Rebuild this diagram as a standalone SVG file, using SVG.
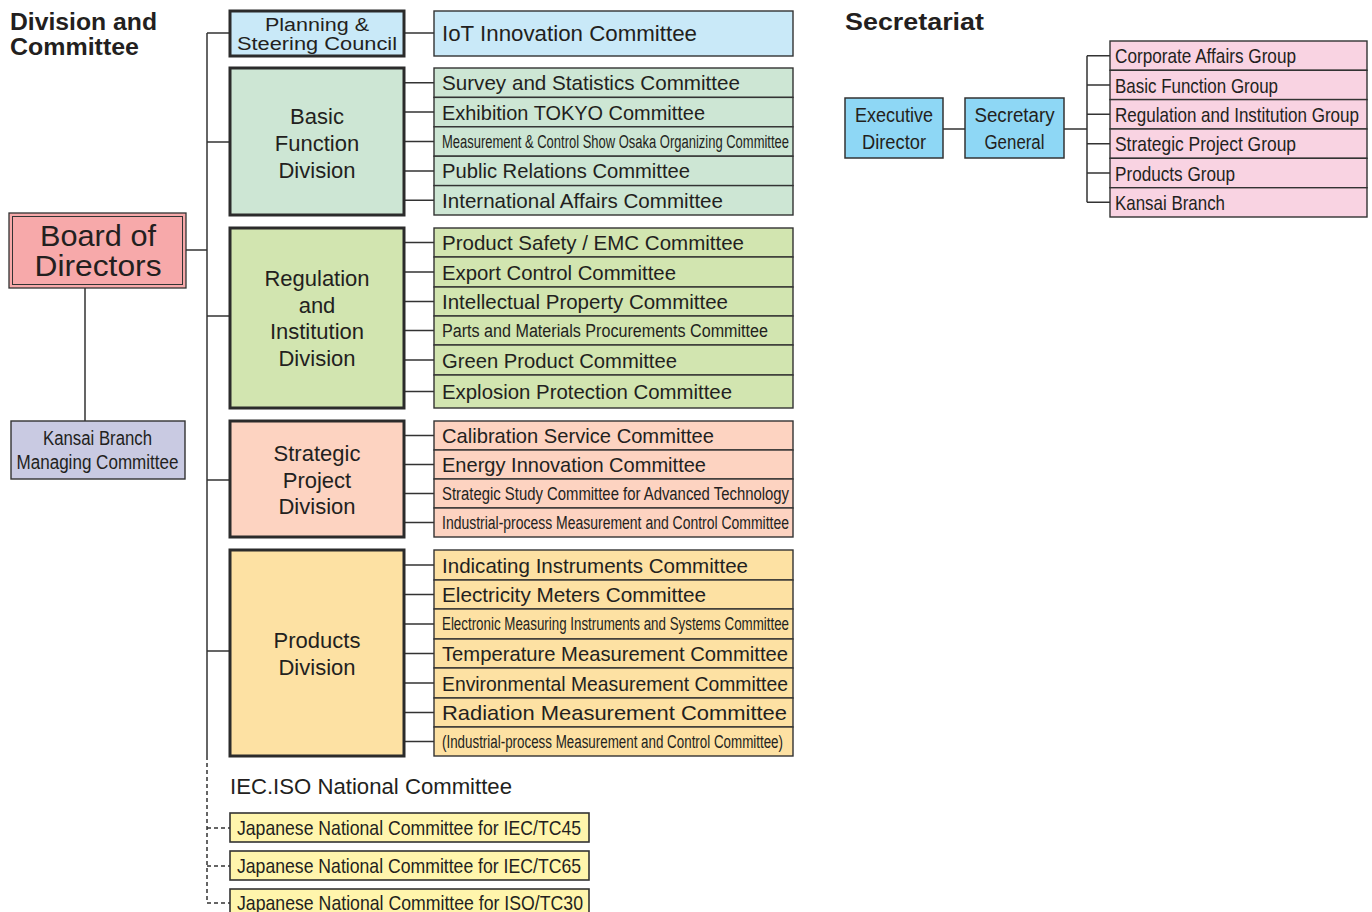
<svg xmlns="http://www.w3.org/2000/svg" width="1372" height="912" viewBox="0 0 1372 912">
<style>
text{font-family:"Liberation Sans",Arial,sans-serif;fill:#231f20}
.title{font-weight:bold;font-size:23px}
.div{stroke:#2b2b2b;stroke-width:3}
.cm{stroke:#333;stroke-width:1.4}
.c{font-size:21px}
.s{font-size:18px}
.dl{font-size:22px;text-anchor:middle}
.ln{stroke:#333;stroke-width:1.5;fill:none}
.dash{stroke:#333;stroke-width:1.5;fill:none;stroke-dasharray:4 3}
</style>
<text class="title" x="10" y="30" textLength="147" lengthAdjust="spacingAndGlyphs">Division and</text>
<text class="title" x="10" y="55" textLength="129" lengthAdjust="spacingAndGlyphs">Committee</text>
<text class="title" x="845" y="30" textLength="139" lengthAdjust="spacingAndGlyphs">Secretariat</text>

<g id="connectors">
<path class="ln" d="M207 33V756"/>
<path class="dash" d="M207 756V903"/>
<path class="ln" d="M207 33H230M404 33H434M207 142H230M207 316H230M207 480H230M207 651H230M186 250H207M85 288V421"/>
<path class="ln" d="M404 82.7H434M404 112.1H434M404 141.5H434M404 170.9H434M404 200.3H434"/>
<path class="ln" d="M404 242.5H434M404 272H434M404 301.5H434M404 330.5H434M404 360H434M404 391.5H434"/>
<path class="ln" d="M404 435.5H434M404 464.5H434M404 493.5H434M404 522.5H434"/>
<path class="ln" d="M404 565H434M404 594.5H434M404 624H434M404 653.5H434M404 683H434M404 712.5H434M404 741.5H434"/>
<path class="dash" d="M207 828H230M207 866H230M207 903H230"/>
<path class="ln" d="M943 129H965M1064 129H1087M1087 55.7V202.3M1087 55.7H1110M1087 85H1110M1087 114.3H1110M1087 143.7H1110M1087 173H1110M1087 202.3H1110"/>
</g>

<g id="board">
<rect x="9" y="213" width="177" height="75" fill="#f7a9aa" stroke="#333" stroke-width="1.3"/>
<rect x="12.5" y="216.5" width="170" height="68" fill="none" stroke="#333" stroke-width="1"/>
<text x="98" y="246" font-size="29" text-anchor="middle" textLength="116" lengthAdjust="spacingAndGlyphs">Board of</text>
<text x="98" y="276" font-size="29" text-anchor="middle" textLength="127" lengthAdjust="spacingAndGlyphs">Directors</text>
</g>
<g id="kansai-managing">
<rect x="11" y="421" width="174" height="58" fill="#c9cae2" stroke="#333" stroke-width="1.4"/>
<text x="97.5" y="445" font-size="20" text-anchor="middle" textLength="109" lengthAdjust="spacingAndGlyphs">Kansai Branch</text>
<text x="97.5" y="469" font-size="20" text-anchor="middle" textLength="162" lengthAdjust="spacingAndGlyphs">Managing Committee</text>
</g>

<g id="planning">
<rect class="div" x="230" y="11" width="174" height="45" fill="#c9e9f8"/>
<text x="317" y="31" font-size="18" text-anchor="middle" textLength="104" lengthAdjust="spacingAndGlyphs">Planning &amp;</text>
<text x="317" y="50" font-size="18" text-anchor="middle" textLength="160" lengthAdjust="spacingAndGlyphs">Steering Council</text>
</g>
<g id="iot">
<rect class="cm" x="434" y="11" width="359" height="45" fill="#c9e9f8"/>
<text x="442" y="41" font-size="22" textLength="255" lengthAdjust="spacingAndGlyphs">IoT Innovation Committee</text>
</g>

<g id="basic-division">
<rect class="div" x="230" y="68" width="174" height="147" fill="#cde6d4"/>
<text class="dl" x="317" y="124">Basic</text>
<text class="dl" x="317" y="151">Function</text>
<text class="dl" x="317" y="178">Division</text>
</g>
<g id="basic-committees" fill="#cde6d4">
<rect class="cm" x="434" y="68" width="359" height="29.4"/>
<rect class="cm" x="434" y="97.4" width="359" height="29.4"/>
<rect class="cm" x="434" y="126.8" width="359" height="29.4"/>
<rect class="cm" x="434" y="156.2" width="359" height="29.4"/>
<rect class="cm" x="434" y="185.6" width="359" height="29.4"/>
<text class="c" x="442" y="90" textLength="298" lengthAdjust="spacingAndGlyphs">Survey and Statistics Committee</text>
<text class="c" x="442" y="119.5" textLength="263" lengthAdjust="spacingAndGlyphs">Exhibition TOKYO Committee</text>
<text class="s" x="442" y="148" textLength="347" lengthAdjust="spacingAndGlyphs">Measurement &amp; Control Show Osaka Organizing Committee</text>
<text class="c" x="442" y="178" textLength="248" lengthAdjust="spacingAndGlyphs">Public Relations Committee</text>
<text class="c" x="442" y="208" textLength="281" lengthAdjust="spacingAndGlyphs">International Affairs Committee</text>
</g>

<g id="regulation-division">
<rect class="div" x="230" y="228" width="174" height="180" fill="#d2e5b0"/>
<text class="dl" x="317" y="286">Regulation</text>
<text class="dl" x="317" y="313">and</text>
<text class="dl" x="317" y="339">Institution</text>
<text class="dl" x="317" y="366">Division</text>
</g>
<g id="regulation-committees" fill="#d2e5b0">
<rect class="cm" x="434" y="228" width="359" height="29"/>
<rect class="cm" x="434" y="257" width="359" height="30"/>
<rect class="cm" x="434" y="287" width="359" height="29"/>
<rect class="cm" x="434" y="316" width="359" height="29"/>
<rect class="cm" x="434" y="345" width="359" height="30"/>
<rect class="cm" x="434" y="375" width="359" height="33"/>
<text class="c" x="442" y="250" textLength="302" lengthAdjust="spacingAndGlyphs">Product Safety / EMC Committee</text>
<text class="c" x="442" y="279.5" textLength="234" lengthAdjust="spacingAndGlyphs">Export Control Committee</text>
<text class="c" x="442" y="309" textLength="286" lengthAdjust="spacingAndGlyphs">Intellectual Property Committee</text>
<text class="s" x="442" y="337" textLength="326" lengthAdjust="spacingAndGlyphs">Parts and Materials Procurements Committee</text>
<text class="c" x="442" y="367.5" textLength="235" lengthAdjust="spacingAndGlyphs">Green Product Committee</text>
<text class="c" x="442" y="399" textLength="290" lengthAdjust="spacingAndGlyphs">Explosion Protection Committee</text>
</g>

<g id="strategic-division">
<rect class="div" x="230" y="421" width="174" height="116" fill="#fdd3c1"/>
<text class="dl" x="317" y="461">Strategic</text>
<text class="dl" x="317" y="488">Project</text>
<text class="dl" x="317" y="514">Division</text>
</g>
<g id="strategic-committees" fill="#fdd3c1">
<rect class="cm" x="434" y="421" width="359" height="29"/>
<rect class="cm" x="434" y="450" width="359" height="29"/>
<rect class="cm" x="434" y="479" width="359" height="29"/>
<rect class="cm" x="434" y="508" width="359" height="29"/>
<text class="c" x="442" y="443" textLength="272" lengthAdjust="spacingAndGlyphs">Calibration Service Committee</text>
<text class="c" x="442" y="472" textLength="264" lengthAdjust="spacingAndGlyphs">Energy Innovation Committee</text>
<text class="s" x="442" y="500" textLength="347" lengthAdjust="spacingAndGlyphs">Strategic Study Committee for Advanced Technology</text>
<text class="s" x="442" y="529" textLength="347" lengthAdjust="spacingAndGlyphs">Industrial-process Measurement and Control Committee</text>
</g>

<g id="products-division">
<rect class="div" x="230" y="550" width="174" height="206" fill="#fde1a3"/>
<text class="dl" x="317" y="648">Products</text>
<text class="dl" x="317" y="675">Division</text>
</g>
<g id="products-committees" fill="#fde1a3">
<rect class="cm" x="434" y="550" width="359" height="30"/>
<rect class="cm" x="434" y="580" width="359" height="29"/>
<rect class="cm" x="434" y="609" width="359" height="30"/>
<rect class="cm" x="434" y="639" width="359" height="29"/>
<rect class="cm" x="434" y="668" width="359" height="30"/>
<rect class="cm" x="434" y="698" width="359" height="29"/>
<rect class="cm" x="434" y="727" width="359" height="29"/>
<text class="c" x="442" y="572.5" textLength="306" lengthAdjust="spacingAndGlyphs">Indicating Instruments Committee</text>
<text class="c" x="442" y="602" textLength="264" lengthAdjust="spacingAndGlyphs">Electricity Meters Committee</text>
<text class="s" x="442" y="630" textLength="347" lengthAdjust="spacingAndGlyphs">Electronic Measuring Instruments and Systems Committee</text>
<text class="c" x="442" y="661" textLength="346" lengthAdjust="spacingAndGlyphs">Temperature Measurement Committee</text>
<text class="c" x="442" y="690.5" textLength="346" lengthAdjust="spacingAndGlyphs">Environmental Measurement Committee</text>
<text class="c" x="442" y="720" textLength="345" lengthAdjust="spacingAndGlyphs">Radiation Measurement Committee</text>
<text class="s" x="442" y="748" textLength="341" lengthAdjust="spacingAndGlyphs">(Industrial-process Measurement and Control Committee)</text>
</g>

<g id="iec-iso">
<text x="230" y="794" font-size="22" textLength="282" lengthAdjust="spacingAndGlyphs">IEC.ISO National Committee</text>
</g>
<g id="jnc-tc45">
<rect x="230" y="813" width="359" height="29" fill="#fff5ac" stroke="#333" stroke-width="1.6"/>
<text class="c" x="237" y="835" textLength="344" lengthAdjust="spacingAndGlyphs">Japanese National Committee for IEC/TC45</text>
</g>
<g id="jnc-tc65">
<rect x="230" y="851" width="359" height="29" fill="#fff5ac" stroke="#333" stroke-width="1.6"/>
<text class="c" x="237" y="873" textLength="344" lengthAdjust="spacingAndGlyphs">Japanese National Committee for IEC/TC65</text>
</g>
<g id="jnc-tc30">
<rect x="230" y="889" width="359" height="29" fill="#fff5ac" stroke="#333" stroke-width="1.6"/>
<text class="c" x="237" y="910" textLength="346" lengthAdjust="spacingAndGlyphs">Japanese National Committee for ISO/TC30</text>
</g>

<g id="executive-director">
<rect x="845" y="98" width="98" height="60" fill="#8ed7f5" stroke="#333" stroke-width="1.5"/>
<text x="894" y="122" font-size="20" text-anchor="middle" textLength="78" lengthAdjust="spacingAndGlyphs">Executive</text>
<text x="894" y="149" font-size="20" text-anchor="middle" textLength="64" lengthAdjust="spacingAndGlyphs">Director</text>
</g>
<g id="secretary-general">
<rect x="965" y="98" width="99" height="60" fill="#8ed7f5" stroke="#333" stroke-width="1.5"/>
<text x="1014.5" y="122" font-size="20" text-anchor="middle" textLength="80" lengthAdjust="spacingAndGlyphs">Secretary</text>
<text x="1014.5" y="149" font-size="20" text-anchor="middle" textLength="60" lengthAdjust="spacingAndGlyphs">General</text>
</g>
<g id="secretariat-groups" fill="#f9d3e2">
<rect class="cm" x="1110" y="41" width="257" height="29.3"/>
<rect class="cm" x="1110" y="70.3" width="257" height="29.3"/>
<rect class="cm" x="1110" y="99.6" width="257" height="29.4"/>
<rect class="cm" x="1110" y="129" width="257" height="29.3"/>
<rect class="cm" x="1110" y="158.3" width="257" height="29.4"/>
<rect class="cm" x="1110" y="187.7" width="257" height="29.3"/>
<text class="c" x="1115" y="63" textLength="181" lengthAdjust="spacingAndGlyphs">Corporate Affairs Group</text>
<text class="c" x="1115" y="92.5" textLength="163" lengthAdjust="spacingAndGlyphs">Basic Function Group</text>
<text class="c" x="1115" y="121.5" textLength="244" lengthAdjust="spacingAndGlyphs">Regulation and Institution Group</text>
<text class="c" x="1115" y="151" textLength="181" lengthAdjust="spacingAndGlyphs">Strategic Project Group</text>
<text class="c" x="1115" y="180.5" textLength="120" lengthAdjust="spacingAndGlyphs">Products Group</text>
<text class="c" x="1115" y="210" textLength="110" lengthAdjust="spacingAndGlyphs">Kansai Branch</text>
</g>
</svg>
